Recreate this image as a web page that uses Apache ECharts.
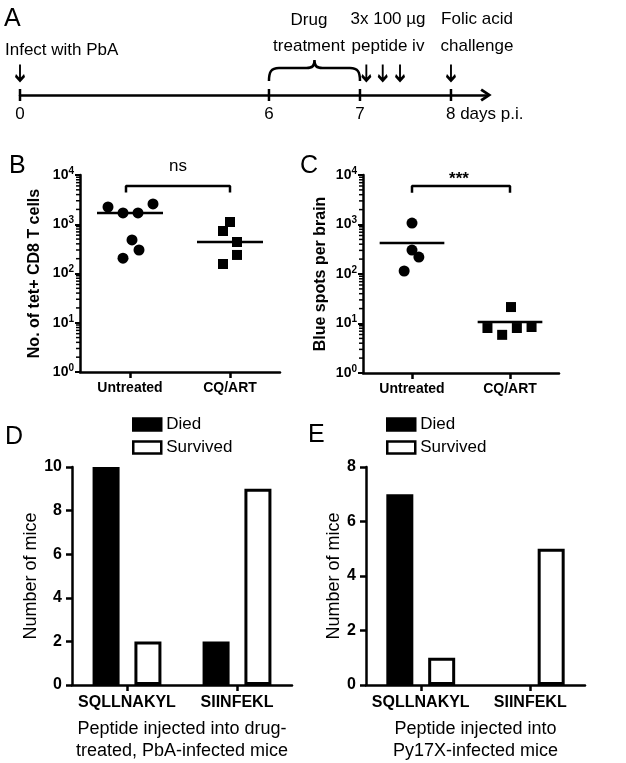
<!DOCTYPE html>
<html>
<head>
<meta charset="utf-8">
<script src="https://cdn.jsdelivr.net/npm/echarts@6/dist/echarts.min.js"></script>
<style>
  html, body { margin: 0; padding: 0; background: #fff; }
  #chart { width: 626px; height: 763px; }
</style>
</head>
<body>
<div id="chart"></div>
<script>
const FONT = "'Liberation Sans', Arial, sans-serif";
const BLACK = "#000";

// A: timeline, days p.i.
const timelineTicks = [0, 6, 7, 8];
const timelineTickLabels = ["0", "6", "7", "8 days p.i."];
const infectDay = 0;
const drugDays = [6, 7];
const peptideDays = [7.07, 7.25, 7.44];
const challengeDay = 8;

// B: tet+ CD8 T cells
const groupsBC = ["Untreated", "CQ/ART"];
const tetUntreated = [2240, 1700, 1700, 2580, 480, 300, 205];
const tetUntreatedJitter = [-0.22, -0.07, 0.08, 0.23, 0.02, 0.09, -0.07];
const tetCqArt = [1110, 730, 436, 238, 156];
const tetCqArtJitter = [0.0, -0.07, 0.07, 0.07, -0.07];
const tetCentre = [1700, 436];

// C: blue spots per brain
const spotsUntreated = [1070, 305, 220, 115];
const spotsUntreatedJitter = [0.0, 0.0, 0.07, -0.08];
const spotsCqArt = [21.5, 8.1, 5.9, 8.1, 8.5];
const spotsCqArtJitter = [0.01, -0.23, -0.08, 0.07, 0.22];
const spotsCentre = [425, 10.7];

// D / E: number of mice
const peptides = ["SQLLNAKYL", "SIINFEKL"];
const diedPbA = [10, 2];
const survivedPbA = [2, 9];
const diedPy = [7, 0];
const survivedPy = [1, 5];

// days 0-6 are drawn squeezed on the timeline
const EARLY_SCALE = 0.456;
const toTimeline = (day) => (day <= 6 ? day * EARLY_SCALE : 6 * EARLY_SCALE + (day - 6));

const axisLineStyle = { color: BLACK, width: 2.5 };

// 2..9 x 10^n, minor ticks of the log axes
const logMinorTicks = [];
for (let e = 0; e < 4; e++) {
  for (let k = 2; k <= 9; k++) logMinorTicks.push(k * Math.pow(10, e));
}

const groupXAxis = (gridIndex, labels, fontSize, margin, name) => ({
  gridIndex,
  type: "value",
  min: -0.5,
  max: 1.5,
  axisLine: { onZero: false, lineStyle: axisLineStyle },
  axisTick: { show: true, customValues: [0, 1], length: 6, lineStyle: axisLineStyle },
  axisLabel: {
    customValues: [0, 1],
    formatter: (v) => labels[Math.round(v)],
    color: BLACK,
    fontFamily: FONT,
    fontWeight: "bold",
    fontSize,
    margin,
  },
  splitLine: { show: false },
  name: name || "",
  nameLocation: "middle",
  nameGap: 33,
  nameTextStyle: { color: BLACK, fontFamily: FONT, fontSize: 18, lineHeight: 22 },
});

const logYAxis = (gridIndex, name, nameGap) => ({
  gridIndex,
  type: "log",
  logBase: 10,
  min: 1,
  max: 10000,
  axisLine: { show: true, onZero: false, lineStyle: axisLineStyle },
  axisTick: { show: true, length: 5, lineStyle: { color: BLACK, width: 2 } },
  axisLabel: {
    margin: 6,
    formatter: (v) => `{b|10}{s|${Math.round(Math.log10(v))}}`,
    rich: {
      b: { fontFamily: FONT, fontSize: 14, fontWeight: "bold", color: BLACK },
      s: { fontFamily: FONT, fontSize: 10, fontWeight: "bold", color: BLACK, lineHeight: 10, padding: [0, 0, 8, 0] },
    },
  },
  splitLine: { show: false },
  name,
  nameLocation: "middle",
  nameGap,
  nameTextStyle: { color: BLACK, fontFamily: FONT, fontSize: 16, fontWeight: "bold" },
});

const countYAxis = (gridIndex, max, nameGap) => ({
  gridIndex,
  type: "value",
  min: 0,
  max,
  interval: 2,
  axisLine: { show: true, onZero: false, lineStyle: axisLineStyle },
  axisTick: { show: true, length: 6, lineStyle: axisLineStyle },
  axisLabel: { color: BLACK, fontFamily: FONT, fontWeight: "bold", fontSize: 16, margin: 10 },
  splitLine: { show: false },
  name: "Number of mice",
  nameLocation: "middle",
  nameGap,
  nameTextStyle: { color: BLACK, fontFamily: FONT, fontSize: 18 },
});

// short ticks left of the log axis line, placed through the log scale
const minorTicks = (xi, yi) => ({
  type: "custom",
  xAxisIndex: xi,
  yAxisIndex: yi,
  silent: true,
  clip: false,
  z: 10,
  data: logMinorTicks.map((v) => [-0.5, v]),
  renderItem: (params, api) => {
    const p = api.coord([api.value(0), api.value(1)]);
    return {
      type: "line",
      shape: { x1: p[0] - 4, y1: p[1], x2: p[0], y2: p[1] },
      style: { stroke: BLACK, lineWidth: 1.5 },
    };
  },
});

const dots = (xi, yi, values, jitter, centre, symbol) => ({
  type: "scatter",
  xAxisIndex: xi,
  yAxisIndex: yi,
  symbol,
  symbolSize: symbol === "rect" ? 10 : 11,
  itemStyle: { color: BLACK, opacity: 1 },
  data: values.map((v, i) => [centre + jitter[i], v]),
  z: 3,
});

const centreLine = (xi, yi, centre, value) => ({
  type: "line",
  xAxisIndex: xi,
  yAxisIndex: yi,
  symbol: "none",
  lineStyle: { color: BLACK, width: 2.5 },
  data: [[centre - 0.33, value], [centre + 0.33, value]],
  z: 4,
});

const bracket = (xi, yi, from, to) => ({
  type: "line",
  xAxisIndex: xi,
  yAxisIndex: yi,
  symbol: "none",
  lineStyle: { color: BLACK, width: 2.5 },
  data: [[from, 4400], [from, 6000], [to, 6000], [to, 4400]],
});

const bars = (xi, yi, name, values, fill) => ({
  type: "bar",
  name,
  xAxisIndex: xi,
  yAxisIndex: yi,
  barWidth: 27,
  barGap: "55%",
  itemStyle: { color: fill, borderColor: BLACK, borderWidth: 3 },
  data: values.map((v, i) => (v === 0 ? { value: [i, v], itemStyle: { borderWidth: 0 } } : [i, v])),
});

const legendFor = (left) => ({
  left,
  top: 416,
  orient: "vertical",
  padding: 0,
  itemWidth: 28,
  itemHeight: 12,
  itemGap: 6,
  icon: "rect",
  selectedMode: false,
  textStyle: { color: BLACK, fontFamily: FONT, fontSize: 17 },
  data: [
    { name: "Died", itemStyle: { color: BLACK, borderColor: BLACK, borderWidth: 2.5 } },
    { name: "Survived", itemStyle: { color: "#fff", borderColor: BLACK, borderWidth: 2.5 } },
  ],
});

const text = (str, x, y, size, align, weight) => ({
  type: "text",
  x,
  y,
  silent: true,
  style: {
    text: str,
    fill: BLACK,
    font: `${weight || "normal"} ${size}px ${FONT}`,
    textAlign: align || "left",
    textVerticalAlign: "middle",
  },
});

const braceRender = (params, api) => {
  const p0 = api.coord([api.value(0), 0]);
  const p1 = api.coord([api.value(1), 0]);
  const x0 = p0[0];
  const x1 = p1[0];
  const xm = (x0 + x1) / 2;
  const yEnd = p0[1] - 14;
  const yFlat = p0[1] - 27;
  const yTip = p0[1] - 35;
  const d =
    `M${x0},${yEnd} C${x0},${yFlat + 4} ${x0 + 2},${yFlat} ${x0 + 10},${yFlat} ` +
    `L${xm - 8},${yFlat} C${xm - 2},${yFlat} ${xm},${yFlat - 2} ${xm},${yTip} ` +
    `C${xm},${yFlat - 2} ${xm + 2},${yFlat} ${xm + 8},${yFlat} ` +
    `L${x1 - 10},${yFlat} C${x1 - 2},${yFlat} ${x1},${yFlat + 4} ${x1},${yEnd}`;
  return { type: "path", shape: { pathData: d }, style: { stroke: BLACK, lineWidth: 2.5, fill: "none" } };
};

const option = {
  animation: false,
  backgroundColor: "#fff",
  textStyle: { fontFamily: FONT },
  grid: [
    { left: 20, top: 50, width: 466, height: 45 },
    { left: 80, top: 175, width: 200, height: 197 },
    { left: 363, top: 175, width: 196, height: 198 },
    { left: 72, top: 467, width: 220, height: 219 },
    { left: 366, top: 467, width: 219, height: 219 },
  ],
  legend: [legendFor(132), legendFor(386)],
  xAxis: [
    {
      gridIndex: 0,
      type: "value",
      min: 0,
      max: 466 / 91,
      axisLine: {
        show: true,
        onZero: false,
        lineStyle: axisLineStyle,
        symbol: ["none", "path://M6,0L12,9L10,10.5L6,4.5L2,10.5L0,9Z"],
        symbolSize: [13, 12],
      },
      axisTick: { show: false },
      axisLabel: { show: false },
      splitLine: { show: false },
    },
    groupXAxis(1, groupsBC, 14, 9),
    groupXAxis(2, groupsBC, 14, 9),
    groupXAxis(3, peptides, 16, 10, "Peptide injected into drug-\ntreated, PbA-infected mice"),
    groupXAxis(4, peptides, 16, 10, "Peptide injected into\nPy17X-infected mice"),
  ],
  yAxis: [
    { gridIndex: 0, type: "value", min: 0, max: 1, show: false },
    logYAxis(1, "No. of tet+ CD8 T cells", 37),
    logYAxis(2, "Blue spots per brain", 34),
    countYAxis(3, 10, 31),
    countYAxis(4, 8, 21),
  ],
  series: [
    // A
    {
      type: "scatter",
      xAxisIndex: 0,
      yAxisIndex: 0,
      symbol: "rect",
      symbolSize: [2.5, 12],
      itemStyle: { color: BLACK, opacity: 1 },
      label: {
        show: true,
        position: "bottom",
        distance: 5,
        color: BLACK,
        fontFamily: FONT,
        fontSize: 17,
        formatter: (p) => timelineTickLabels[p.dataIndex],
      },
      data: timelineTicks.map((d, i) =>
        i === timelineTicks.length - 1
          ? { value: [toTimeline(d), 0], label: { align: "left", offset: [-5, 0] } }
          : [toTimeline(d), 0]
      ),
      z: 5,
    },
    {
      type: "scatter",
      xAxisIndex: 0,
      yAxisIndex: 0,
      symbol: "path://M5,0L5,16M1,11L5,16L9,11",
      symbolSize: [9, 16],
      itemStyle: { color: "transparent", borderColor: BLACK, borderWidth: 2.5, opacity: 1 },
      data: [infectDay, ...peptideDays, challengeDay].map((d) => [toTimeline(d), 0.5]),
    },
    {
      type: "custom",
      xAxisIndex: 0,
      yAxisIndex: 0,
      renderItem: braceRender,
      encode: { x: [0, 1], y: 2 },
      data: [[toTimeline(drugDays[0]), toTimeline(drugDays[1]), 0]],
    },
    // B
    minorTicks(1, 1),
    dots(1, 1, tetUntreated, tetUntreatedJitter, 0, "circle"),
    dots(1, 1, tetCqArt, tetCqArtJitter, 1, "rect"),
    centreLine(1, 1, 0, tetCentre[0]),
    centreLine(1, 1, 1, tetCentre[1]),
    bracket(1, 1, -0.04, 1.0),
    // C
    minorTicks(2, 2),
    dots(2, 2, spotsUntreated, spotsUntreatedJitter, 0, "circle"),
    dots(2, 2, spotsCqArt, spotsCqArtJitter, 1, "rect"),
    centreLine(2, 2, 0, spotsCentre[0]),
    centreLine(2, 2, 1, spotsCentre[1]),
    bracket(2, 2, 0, 1),
    // D
    bars(3, 3, "Died", diedPbA, BLACK),
    bars(3, 3, "Survived", survivedPbA, "#fff"),
    // E
    bars(4, 4, "Died", diedPy, BLACK),
    bars(4, 4, "Survived", survivedPy, "#fff"),
  ],
  graphic: [
    text("A", 4, 19, 25),
    text("Infect with PbA", 5, 50, 17),
    text("Drug", 309, 20, 17, "center"),
    text("treatment", 309, 46, 17, "center"),
    text("3x 100 µg", 388, 19, 17, "center"),
    text("peptide iv", 388, 46, 17, "center"),
    text("Folic acid", 477, 19, 17, "center"),
    text("challenge", 477, 46, 17, "center"),
    text("B", 9, 166, 25),
    text("ns", 178, 166, 17, "center"),
    text("C", 300, 166, 25),
    text("***", 459, 179, 17, "center", "bold"),
    text("D", 5, 437, 25),
    text("E", 308, 435, 25),
  ],
};

const chart = echarts.init(document.getElementById("chart"), null, { renderer: "canvas" });
chart.setOption(option);
</script>
</body>
</html>
